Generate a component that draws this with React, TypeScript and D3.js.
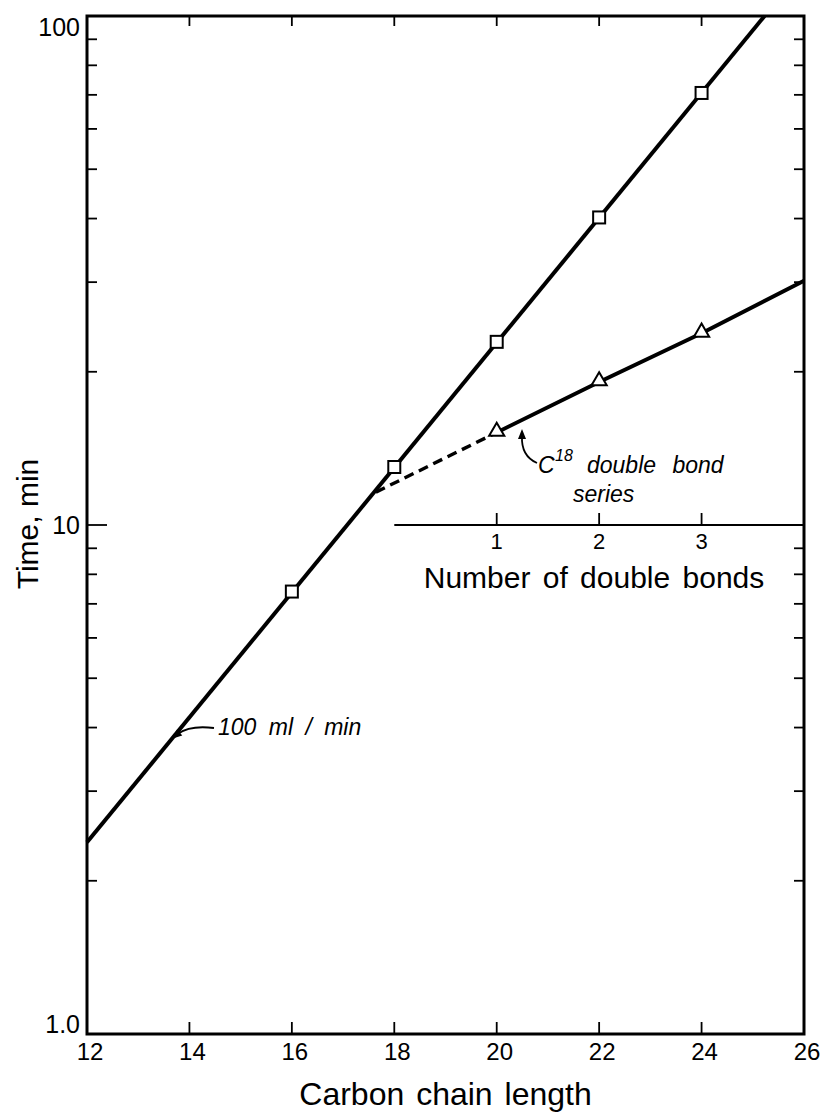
import * as d3 from 'd3';

// data
const carbonTicks = [12, 14, 16, 18, 20, 22, 24, 26];
const timeLabelValues = [1, 10, 100];
const timeLabelText = ['1.0', '10', '100'];
const minorTimeTicks = [2, 3, 4, 5, 6, 7, 8, 9, 20, 30, 40, 50, 60, 70, 80, 90];

// saturated series, 100 ml/min
const chainLength = [16, 18, 20, 22, 24];
const chainTime = [7.4, 13.0, 22.9, 40.2, 70.6];
const chainFitLength = [12, 25.23];
const chainFitTime = [2.38, 100];

// C18 double bond series
const bondTicks = [1, 2, 3];
const bondCount = [1, 2, 3];
const bondTime = [15.2, 19.1, 23.8];
const bondDashCount = [-0.18, 1];
const bondDashTime = [11.6, 15.2];
const bondTailCount = [3, 4];
const bondTailTime = [23.8, 30.2];

const FONT = '"Liberation Sans", Arial, sans-serif';

const x = d3.scaleLinear().domain([12, 26]).range([87, 804]);
const y = d3.scaleLog().domain([1, 100]).range([1034, 16]);
// inset axis: 0 double bonds sits at C18, 4 at C26
const n = d3.scaleLinear().domain([0, 4]).range([x(18), x(26)]);

const arrowHead = (tx: number, ty: number, ang: number, len = 10, half = 4) => {
  const dx = Math.cos(ang), dy = Math.sin(ang);
  const bx = tx - dx * len, by = ty - dy * len;
  return `M${tx},${ty}L${bx - dy * half},${by + dx * half}L${bx + dy * half},${by - dx * half}Z`;
};

const App = () => {
  const line = d3.line<[number, number]>();
  const fitPts = chainFitLength.map((c, i) => [x(c), y(chainFitTime[i])] as [number, number]);
  const dashPts = bondDashCount.map((c, i) => [n(c), y(bondDashTime[i])] as [number, number]);
  const bondPts = bondCount.map((c, i) => [n(c), y(bondTime[i])] as [number, number]);
  const tailPts = bondTailCount.map((c, i) => [n(c), y(bondTailTime[i])] as [number, number]);
  const tri = d3.symbol().type(d3.symbolTriangle).size(100)() as string;

  const left = x(12), right = x(26), top = y(100), bottom = y(1);

  // arrow tip on the fit line at C 13.66
  const tipC = 13.66;
  const tipT = chainFitTime[0] * Math.pow(chainTime[4] / chainTime[1], (tipC - 12) / 6);
  const tipX = x(tipC), tipY = y(tipT);

  return (
    <div style={{ position: 'absolute', left: 0, top: 0, background: '#fff' }}>
      <svg width={820} height={1112} style={{ display: 'block' }} fontFamily={FONT}>
        <rect width={820} height={1112} fill="#fff" />

        {/* ticks */}
        <g stroke="#000" strokeWidth={1.8}>
          {minorTimeTicks.map((v) => (
            <g key={v}>
              <line x1={left} x2={left + 10} y1={y(v)} y2={y(v)} />
              <line x1={right} x2={right - 10} y1={y(v)} y2={y(v)} />
            </g>
          ))}
          <line x1={left} x2={left + 20} y1={y(10)} y2={y(10)} />
          {carbonTicks.slice(1, -1).map((c) => (
            <g key={c}>
              <line x1={x(c)} x2={x(c)} y1={bottom} y2={bottom - 12} />
              <line x1={x(c)} x2={x(c)} y1={top} y2={top + 10} />
            </g>
          ))}
        </g>

        {/* frame */}
        <rect x={left} y={top} width={right - left} height={bottom - top}
          fill="none" stroke="#000" strokeWidth={3} />

        {/* y labels */}
        {timeLabelValues.map((v, i) => (
          <text key={v} x={80} y={Math.min(Math.max(y(v), 27), 1024)} textAnchor="end"
            dominantBaseline="central" fontSize={25}>{timeLabelText[i]}</text>
        ))}
        {/* x labels */}
        {carbonTicks.map((c) => (
          <text key={c} x={x(c) + 3} y={1051} textAnchor="middle" dominantBaseline="central"
            fontSize={24}>{c}</text>
        ))}
        <text x={(left + right) / 2} y={1105} textAnchor="middle" fontSize={32} wordSpacing={3}>
          Carbon chain length
        </text>
        <text transform="translate(38,524) rotate(-90)" textAnchor="middle" fontSize={30}>
          Time, min
        </text>

        {/* inset axis for double bonds */}
        <line x1={n(0)} x2={right} y1={y(10)} y2={y(10)} stroke="#000" strokeWidth={2.2} />
        {bondTicks.map((b) => (
          <g key={b}>
            <line x1={n(b)} x2={n(b)} y1={y(10)} y2={y(10) - 12} stroke="#000" strokeWidth={1.8} />
            <text x={n(b)} y={549} textAnchor="middle" fontSize={22}>{b}</text>
          </g>
        ))}
        <text x={594} y={588} textAnchor="middle" fontSize={30} wordSpacing={4}>
          Number of double bonds
        </text>

        {/* series lines */}
        <path d={line(fitPts) as string} fill="none" stroke="#000" strokeWidth={4} />
        <path d={line(dashPts) as string} fill="none" stroke="#000" strokeWidth={3.4}
          strokeDasharray="10,6" />
        <path d={line([...bondPts, ...tailPts.slice(1)]) as string} fill="none" stroke="#000"
          strokeWidth={4} />

        {/* markers */}
        {chainLength.map((c, i) => (
          <rect key={c} x={x(c) - 6} y={y(chainTime[i]) - 6} width={12} height={12}
            fill="#fff" stroke="#000" strokeWidth={2} />
        ))}
        {bondCount.map((c, i) => (
          <path key={c} d={tri} transform={`translate(${n(c)},${y(bondTime[i]) - 1})`}
            fill="#fff" stroke="#000" strokeWidth={2} />
        ))}

        {/* annotations */}
        <path d={`M214,728 Q190,725 ${tipX + 6},${tipY - 5}`} fill="none" stroke="#000" strokeWidth={1.8} />
        <path d={arrowHead(tipX, tipY, Math.atan2(5, -6))} fill="#000" />
        <text x={218} y={735} fontSize={23} fontStyle="italic" wordSpacing={6}>100 ml / min</text>

        <path d="M537,463 Q521,456 522,436" fill="none" stroke="#000" strokeWidth={1.8} />
        <path d={arrowHead(522, 429, -Math.PI / 2, 10, 4)} fill="#000" />
        <text x={538} y={473} fontSize={23} fontStyle="italic">C</text>
        <text x={555} y={461} fontSize={16} fontStyle="italic">18</text>
        <text x={587} y={473} fontSize={23} fontStyle="italic" wordSpacing={10}>double bond</text>
        <text x={573} y={502} fontSize={23} fontStyle="italic">series</text>
      </svg>
    </div>
  );
};

export default App;
